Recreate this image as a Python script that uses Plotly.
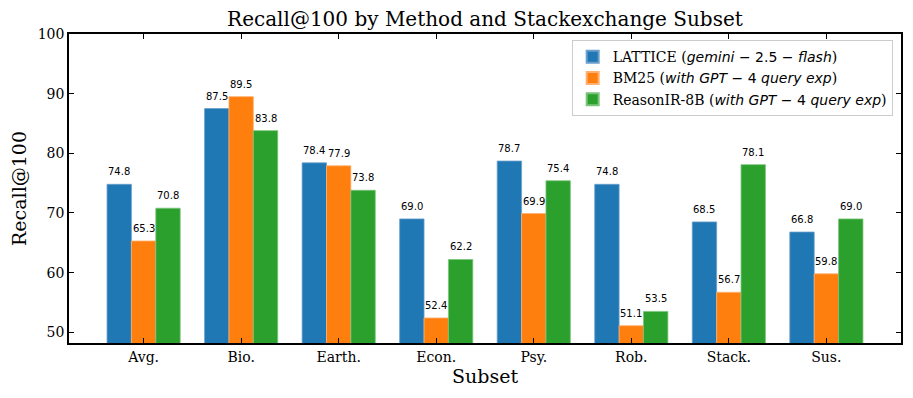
import plotly.graph_objects as go

subsets = ['Avg.', 'Bio.', 'Earth.', 'Econ.', 'Psy.', 'Rob.', 'Stack.', 'Sus.']
lattice = [74.8, 87.5, 78.4, 69.0, 78.7, 74.8, 68.5, 66.8]
bm25 = [65.3, 89.5, 77.9, 52.4, 69.9, 51.1, 56.7, 59.8]
reasonir = [70.8, 83.8, 73.8, 62.2, 75.4, 53.5, 78.1, 69.0]

MATH = 'font-family:DejaVu Sans;font-style:italic'
SANS = 'font-family:DejaVu Sans'
names = [
    f'LATTICE (<span style="{MATH}">gemini</span> <span style="{SANS}">− 2.5 −</span> <span style="{MATH}">flash</span>)',
    f'BM25 (<span style="{MATH}">with GPT</span> <span style="{SANS}">− 4</span> <span style="{MATH}">query exp</span>)',
    f'ReasonIR-8B (<span style="{MATH}">with GPT</span> <span style="{SANS}">− 4</span> <span style="{MATH}">query exp</span>)',
]
colors = ['#1f77b4', '#ff7f0e', '#2ca02c']
edges = ['#6a9fcc', '#ffb070', '#7bc47b']
series = [lattice, bm25, reasonir]

serif = 'DejaVu Serif'
width = 0.25
x = list(range(len(subsets)))

fig = go.Figure()
for i, (vals, name) in enumerate(zip(series, names)):
    offs = [xi + (i - 1) * width for xi in x]
    fig.add_trace(go.Bar(x=offs, y=vals, name=name, width=width,
                         marker=dict(color=colors[i], line=dict(color=edges[i], width=0.8))))
    for xo, v in zip(offs, vals):
        fig.add_annotation(x=xo, y=v, text=f'{v:.1f}', showarrow=False,
                           yanchor='bottom', yshift=5,
                           font=dict(family='DejaVu Sans', size=10, color='black'))

axis_style = dict(showline=True, linecolor='black', linewidth=1.5, mirror='allticks',
                  ticks='inside', ticklen=5, tickwidth=1.2, tickcolor='black',
                  showgrid=False, zeroline=False,
                  tickfont=dict(family=serif, size=14, color='black'))

# page body has an 8px margin, so the figure is shrunk and shifted to compensate
fig.update_layout(
    width=905, height=390,
    margin=dict(l=59, r=10, t=26, b=55),
    plot_bgcolor='white', paper_bgcolor='white',
    barmode='overlay',
    title=dict(text='Recall@100 by Method and Stackexchange Subset', x=0.527, xanchor='center',
               y=0.99, yanchor='top', font=dict(family=serif, size=20, color='black')),
    xaxis=dict(axis_style, range=[-0.765, 7.765], tickvals=x, ticktext=subsets,
               title=dict(text='Subset', font=dict(family=serif, size=19, color='black'), standoff=2)),
    yaxis=dict(axis_style, range=[48.2, 100], tickvals=[50, 60, 70, 80, 90, 100],
               title=dict(text='Recall@100', font=dict(family=serif, size=19, color='black'), standoff=6)),
    legend=dict(x=0.99, y=0.98, xanchor='right', yanchor='top',
                bgcolor='rgba(255,255,255,0.85)', bordercolor='#cccccc', borderwidth=1,
                font=dict(family=serif, size=14, color='black'), tracegroupgap=0,
                itemsizing='constant'),
    showlegend=True,
)

fig.write_html('out.html')
